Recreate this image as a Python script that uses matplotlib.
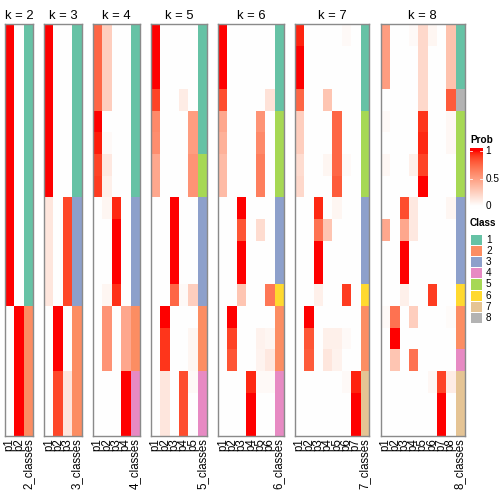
import numpy as np
import matplotlib
matplotlib.use("Agg")
import matplotlib.pyplot as plt
from matplotlib.colors import ListedColormap, Normalize, to_rgba

# ---------------- data ----------------
k_values = [2, 3, 4, 5, 6, 7, 8]

probs_k2 = [[1, 0]] * 13 + [[0, 1]] * 6
classes_k2 = [1] * 13 + [2] * 6

probs_k3 = ([[1, 0, 0]] * 8 + [[0.13, 0, 0.87]] * 5 +
            [[0, 1, 0]] * 3 + [[0, 0.87, 0.13]] * 3)
classes_k3 = [1] * 8 + [3] * 5 + [2] * 6

probs_k4 = [[0.75, 0.25, 0, 0], [0.75, 0.25, 0, 0], [0.75, 0.25, 0, 0], [0.75, 0.25, 0, 0],
            [1, 0, 0, 0], [0.97, 0.03, 0, 0], [0.88, 0.12, 0, 0], [0.9, 0.08, 0, 0],
            [0, 0.05, 0.95, 0], [0, 0, 1, 0], [0, 0, 1, 0], [0, 0, 1, 0], [0, 0.05, 0.93, 0],
            [0, 0.55, 0, 0.45], [0, 0.55, 0, 0.45], [0, 0.55, 0, 0.45],
            [0, 0, 0, 1], [0, 0, 0, 1], [0, 0, 0, 1]]
classes_k4 = [1] * 8 + [3] * 5 + [2] * 3 + [4] * 3

probs_k5 = [[1, 0, 0, 0, 0], [1, 0, 0, 0, 0], [1, 0, 0, 0, 0], [0.88, 0, 0, 0.1, 0],
            [0.6, 0, 0, 0, 0.5], [0.58, 0, 0, 0, 0.5], [0.45, 0, 0, 0, 0.55], [0.45, 0, 0, 0, 0.55],
            [0, 0, 1, 0, 0], [0, 0, 1, 0, 0], [0, 0, 1, 0, 0], [0, 0, 1, 0, 0], [0, 0, 0.75, 0.03, 0.25],
            [0, 1, 0, 0, 0], [0, 0.92, 0, 0, 0.05], [0, 0.92, 0, 0, 0.05],
            [0, 0.13, 0, 0.85, 0.03], [0, 0.13, 0, 0.85, 0], [0, 0.13, 0, 0.85, 0]]
classes_k5 = [1] * 6 + [5] * 2 + [3] * 5 + [2] * 3 + [4] * 3

probs_k6 = [[1, 0, 0, 0, 0, 0], [1, 0, 0, 0, 0, 0], [1, 0, 0, 0, 0, 0], [0.85, 0, 0, 0, 0, 0.15],
            [0.45, 0, 0, 0, 0.55, 0], [0.4, 0, 0, 0, 0.6, 0], [0.35, 0, 0, 0, 0.65, 0], [0.35, 0, 0, 0, 0.65, 0],
            [0, 0, 1, 0, 0, 0], [0, 0, 0.82, 0, 0.18, 0], [0, 0, 1, 0, 0, 0], [0, 0, 1, 0, 0, 0],
            [0, 0, 0.3, 0, 0, 0.68],
            [0, 1, 0, 0, 0, 0], [0, 0.88, 0, 0, 0.07, 0.05], [0, 0.82, 0, 0, 0.06, 0.12],
            [0, 0, 0, 0.95, 0.03, 0.03], [0, 0, 0, 1, 0, 0], [0, 0, 0, 1, 0, 0]]
classes_k6 = [1] * 4 + [5] * 4 + [3] * 4 + [6] + [2] * 3 + [4] * 3

probs_k7 = [[0.96, 0, 0, 0, 0, 0.03, 0], [1, 0, 0, 0, 0, 0, 0], [1, 0, 0, 0, 0, 0, 0],
            [0.75, 0, 0, 0.3, 0, 0, 0],
            [0.25, 0, 0, 0, 0.75, 0, 0], [0.25, 0, 0, 0, 0.75, 0, 0],
            [0.18, 0, 0, 0.05, 0.75, 0.03, 0], [0.2, 0, 0, 0, 0.8, 0, 0],
            [0, 0, 0.95, 0, 0.05, 0, 0], [0, 0, 0.7, 0.3, 0, 0, 0], [0, 0, 1, 0, 0, 0, 0], [0, 0, 1, 0, 0, 0, 0],
            [0, 0, 0.08, 0, 0, 0.9, 0],
            [0, 1, 0, 0, 0, 0, 0], [0, 0.82, 0, 0.08, 0.08, 0.03, 0], [0, 0.8, 0, 0.13, 0.07, 0, 0],
            [0, 0, 0, 0, 0, 0.03, 0.96], [0, 0, 0, 0, 0, 0, 1], [0, 0, 0, 0, 0, 0, 1]]
classes_k7 = [1] * 4 + [5] * 4 + [3] * 4 + [6] + [2] * 3 + [7] * 3

probs_k8 = [[0.5, 0, 0, 0.03, 0.2, 0.05, 0, 0.32], [0.5, 0, 0, 0, 0.2, 0, 0, 0.32],
            [0.5, 0, 0, 0, 0.2, 0, 0, 0.32], [0, 0, 0, 0, 0.2, 0, 0, 0.8],
            [0.03, 0, 0, 0, 0.92, 0, 0, 0.04], [0, 0, 0, 0, 0.95, 0, 0, 0.04],
            [0.04, 0, 0, 0.08, 0.88, 0, 0, 0], [0, 0, 0, 0, 1, 0, 0, 0],
            [0, 0, 0.85, 0.12, 0, 0, 0, 0.05], [0.45, 0, 0.45, 0.12, 0, 0, 0, 0],
            [0, 0, 1, 0, 0, 0, 0, 0], [0, 0, 1, 0, 0, 0, 0, 0],
            [0, 0, 0.08, 0, 0, 0.9, 0, 0],
            [0.03, 0.7, 0, 0.25, 0, 0, 0, 0.02], [0, 1, 0, 0, 0, 0, 0, 0],
            [0, 0.3, 0, 0.7, 0, 0, 0, 0],
            [0, 0, 0, 0, 0, 0.04, 0.88, 0.1], [0, 0, 0, 0, 0, 0, 1, 0], [0, 0, 0, 0, 0, 0, 1, 0]]
classes_k8 = [1] * 3 + [8] + [5] * 4 + [3] * 4 + [6] + [2] * 2 + [4] + [7] * 3

all_probs = [probs_k2, probs_k3, probs_k4, probs_k5, probs_k6, probs_k7, probs_k8]
all_classes = [classes_k2, classes_k3, classes_k4, classes_k5, classes_k6, classes_k7, classes_k8]

class_labels = ["1", "2", "3", "4", "5", "6", "7", "8"]
class_colors = ["#66C2A5", "#FC8D62", "#8DA0CB", "#E78AC3",
                "#A6D854", "#FFD92F", "#E5C494", "#B3B3B3"]
prob_ticks = [0, 0.5, 1]
prob_tick_labels = ["0", "0.5", "1"]


# ---------------- white -> red colour ramp in LAB space ----------------
def srgb_to_lab(rgb):
    rgb = np.asarray(rgb, float)
    lin = np.where(rgb <= 0.04045, rgb / 12.92, ((rgb + 0.055) / 1.055) ** 2.4)
    M = np.array([[0.4124, 0.3576, 0.1805], [0.2126, 0.7152, 0.0722], [0.0193, 0.1192, 0.9505]])
    xyz = lin @ M.T / np.array([0.95047, 1.0, 1.08883])
    f = np.where(xyz > 0.008856, np.cbrt(xyz), 7.787 * xyz + 16 / 116)
    return np.stack([116 * f[..., 1] - 16, 500 * (f[..., 0] - f[..., 1]),
                     200 * (f[..., 1] - f[..., 2])], -1)


def lab_to_srgb(lab):
    L, a, b = lab[..., 0], lab[..., 1], lab[..., 2]
    fy = (L + 16) / 116
    f = np.stack([fy + a / 500, fy, fy - b / 200], -1)
    xyz = np.where(f ** 3 > 0.008856, f ** 3, (f - 16 / 116) / 7.787)
    xyz = xyz * np.array([0.95047, 1.0, 1.08883])
    Minv = np.array([[3.2406, -1.5372, -0.4986], [-0.9689, 1.8758, 0.0415], [0.0557, -0.2040, 1.0570]])
    lin = np.clip(xyz @ Minv.T, 0, 1)
    return np.clip(np.where(lin <= 0.0031308, 12.92 * lin, 1.055 * lin ** (1 / 2.4) - 0.055), 0, 1)


lab_w = srgb_to_lab([1.0, 1.0, 1.0])
lab_r = srgb_to_lab([1.0, 0.0, 0.0])
tt = np.linspace(0, 1, 256)[:, None]
prob_cmap = ListedColormap(lab_to_srgb(lab_w * (1 - tt) + lab_r * tt))
norm = Normalize(0, 1)

# ---------------- layout (pixels) ----------------
W = H = 504
fig = plt.figure(figsize=(W / 72, H / 72), dpi=72)
plt.rcParams["font.family"] = ["Liberation Sans", "DejaVu Sans"]


def px_axes(x0, y0, w, h):
    return fig.add_axes([x0 / W, 1 - (y0 + h) / H, w / W, h / H])


top, bottom = 24.0, 436.0
col_w = 9.3
gap = 11.5
x = 5.0
for k, probs, classes in zip(k_values, all_probs, all_classes):
    P = np.asarray(probs, float)
    n = P.shape[0]
    ncol = k + 1
    width = ncol * col_w
    ax = px_axes(x, top, width, bottom - top)
    rgba = np.zeros((n, ncol, 4))
    rgba[:, :k, :] = prob_cmap(norm(P))
    for i, c in enumerate(classes):
        rgba[i, k, :] = to_rgba(class_colors[c - 1])
    ax.imshow(rgba, aspect="auto", interpolation="nearest", extent=(0, ncol, n, 0))
    ax.set_xlim(0, ncol)
    ax.set_ylim(n, 0)
    ax.set_xticks([])
    ax.set_yticks([])
    for s in ax.spines.values():
        s.set_color("#8a8a8a")
        s.set_linewidth(1.4)
    ax.set_title(f"k = {k}", fontsize=13, pad=5)
    labels = [f"p{j + 1}" for j in range(k)] + [f"{k}_classes"]
    for j, lab in enumerate(labels):
        ax.text(j + 0.5, n + 0.1, lab, rotation=90, ha="center", va="top",
                fontsize=11.5, transform=ax.transData, clip_on=False)
    x += width + gap

# ---------------- legends ----------------
fig.text(470 / W, 1 - 140 / H, "Prob", fontsize=10, fontweight="bold", ha="left", va="center")
cax = px_axes(470, 148, 12.5, 61)
v_top, v_bot = 1.05, -0.05
grad = np.clip(np.linspace(v_top, v_bot, 200), 0, 1)[:, None]
cax.imshow(grad, cmap=prob_cmap, norm=norm, aspect="auto", extent=(0, 1, v_bot, v_top),
           interpolation="bilinear")
cax.set_xlim(0, 1)
cax.set_ylim(v_bot, v_top)
cax.axis("off")
for v, lab in zip(prob_ticks, prob_tick_labels):
    cax.plot([0, 0.18], [v, v], color="white", lw=0.8)
    cax.plot([0.82, 1], [v, v], color="white", lw=0.8)
    cax.text(1.25, v, lab, fontsize=10, ha="left", va="center", transform=cax.transData)

fig.text(470 / W, 1 - 223 / H, "Class", fontsize=10, fontweight="bold", ha="left", va="center")
sq_h = 11.2
for i, (lab, col) in enumerate(zip(class_labels, class_colors)):
    y0 = 234 + i * sq_h
    sax = px_axes(470.5, y0 + 0.5, 11.5, sq_h - 1)
    sax.set_facecolor(col)
    sax.set_xticks([])
    sax.set_yticks([])
    for s in sax.spines.values():
        s.set_visible(False)
    fig.text(486 / W, 1 - (y0 + sq_h / 2) / H, lab, fontsize=10, ha="left", va="center")

fig.savefig("out.png", dpi=72)
